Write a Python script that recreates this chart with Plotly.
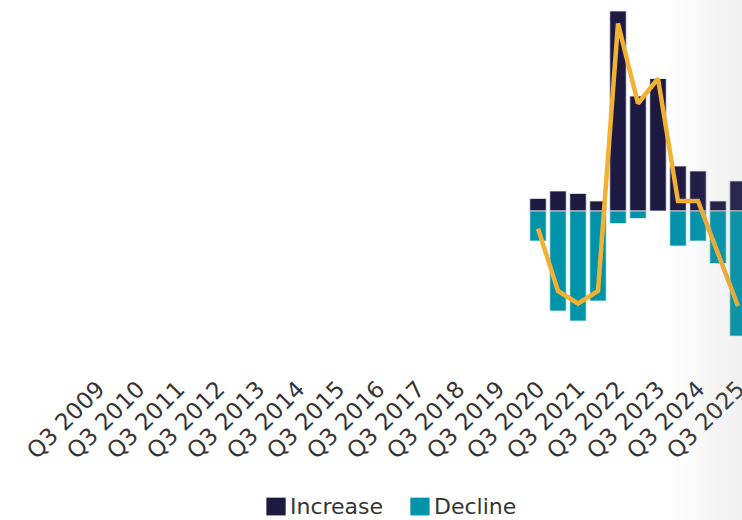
import plotly.graph_objects as go

# Half-yearly periods from Q3 2009 to Q3 2025; only Q3 periods get a tick label
periods = []
for yr in range(2009, 2026):
    if yr > 2009:
        periods.append(f"Q1 {yr}")
    periods.append(f"Q3 {yr}")

# Survey results (share of respondents) from Q3 2020 onward
data_periods = ["Q3 2020", "Q1 2021", "Q3 2021", "Q1 2022", "Q3 2022", "Q1 2023",
                "Q3 2023", "Q1 2024", "Q3 2024", "Q1 2025", "Q3 2025"]
increase = [5, 8, 7, 4, 80, 46, 53, 18, 16, 4, 12]
decline = [12, 40, 44, 36, 5, 3, 0, 14, 12, 21, 50]
net = [i - d for i, d in zip(increase, decline)]

tick_labels = [p for p in periods if p.startswith("Q3")]

NAVY = "#1e1941"
TEAL = "#0093a9"
GOLD = "#f1b132"
TEXT = "#353535"
FONT = "DejaVu Sans"

fig = go.Figure()
fig.add_trace(go.Bar(x=data_periods, y=increase, name="Increase",
                     marker=dict(color=NAVY, line=dict(color="#e6e4f0", width=0.8)),
                     showlegend=False))
fig.add_trace(go.Bar(x=data_periods, y=[-d for d in decline], name="Decline",
                     marker=dict(color=TEAL, line=dict(color="#dff1f4", width=0.8)),
                     showlegend=False))
fig.add_trace(go.Scatter(x=data_periods, y=net, mode="lines", name="Net",
                         line=dict(color=GOLD, width=4.5), showlegend=False))

# Legend drawn beneath the axis labels
legend_items = [("Increase", NAVY, 0.359), ("Decline", TEAL, 0.553)]
for label, colour, x0 in legend_items:
    fig.add_shape(type="rect", xref="paper", yref="paper",
                  x0=x0, x1=x0 + 0.026, y0=-0.393, y1=-0.345,
                  fillcolor=colour, line=dict(width=0))
    fig.add_annotation(xref="paper", yref="paper", x=x0 + 0.029, y=-0.369,
                       text=label, showarrow=False, xanchor="left", yanchor="middle",
                       font=dict(family=FONT, size=22, color=TEXT))

# Soft grey fade along the right edge
steps = 14
for k in range(steps):
    fig.add_shape(type="rect", xref="paper", yref="paper",
                  x0=0.905 + k * 0.095 / steps, x1=1.0, y0=-0.41, y1=1.0,
                  fillcolor="#d0d0d0", opacity=0.013, line=dict(width=0),
                  layer="above")

fig.update_layout(
    width=742, height=520,
    margin=dict(l=0, r=0, t=0, b=150),
    paper_bgcolor="white", plot_bgcolor="white",
    barmode="relative", bargap=0.18,
    font=dict(family=FONT, color=TEXT),
    xaxis=dict(type="category", categoryorder="array", categoryarray=periods,
               range=[-4.9, 32.2], tickmode="array", tickvals=tick_labels,
               ticktext=tick_labels, tickangle=-45, tickfont=dict(size=23, color=TEXT),
               showgrid=False, zeroline=False, showline=False, ticks="",
               automargin=False),
    yaxis=dict(range=[-63.6, 84.4], visible=False, showgrid=False, zeroline=False,
               automargin=False),
)

fig.write_html("out.html")
